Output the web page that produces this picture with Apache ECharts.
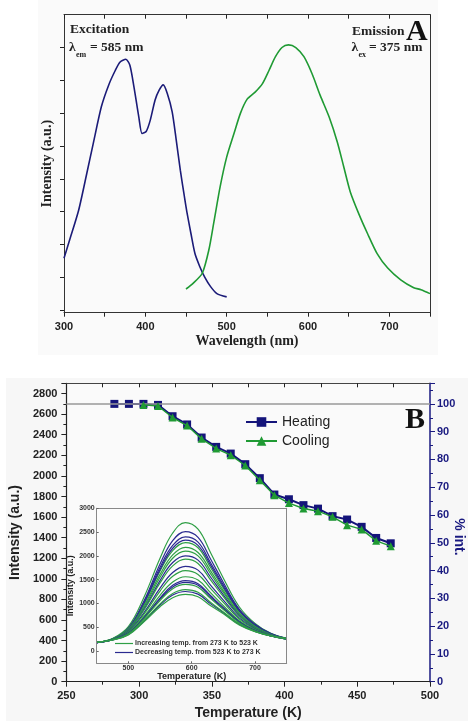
<!DOCTYPE html>
<html><head><meta charset="utf-8">
<script src="https://cdn.jsdelivr.net/npm/echarts@6/dist/echarts.min.js"></script>
<style>html,body{margin:0;padding:0;background:#fff}#c{width:468px;height:721px}</style>
</head><body><div id="c"></div>
<script>
// ---------- Panel A data ----------
const excitationWl = [300, 307, 318, 328, 336, 346, 355, 363, 369, 376, 381, 386, 392, 396, 401, 406, 412, 417, 422, 427, 433, 438, 443, 448, 451, 456, 461, 467, 473, 480, 488, 500];
const excitationInt = [0.79, 1.07, 1.52, 2.08, 2.54, 3.10, 3.43, 3.65, 3.78, 3.82, 3.73, 3.40, 2.94, 2.69, 2.72, 2.89, 3.20, 3.35, 3.43, 3.30, 3.02, 2.59, 2.13, 1.73, 1.50, 1.17, 0.86, 0.66, 0.50, 0.36, 0.25, 0.20];
const emissionWl = [450, 459, 470, 478, 484, 492, 500, 509, 517, 525, 535, 544, 552, 560, 568, 576, 585, 595, 605, 615, 626, 636, 644, 652, 663, 673, 685, 698, 714, 730, 739, 750];
const emissionInt = [0.32, 0.41, 0.56, 0.91, 1.32, 1.88, 2.33, 2.69, 3.00, 3.21, 3.32, 3.45, 3.65, 3.86, 4.00, 4.04, 4.00, 3.86, 3.60, 3.27, 2.94, 2.56, 2.18, 1.80, 1.45, 1.17, 0.86, 0.64, 0.46, 0.34, 0.31, 0.25];
const aXLabels = [300, 400, 500, 600, 700];
const aXTicks = [300, 350, 400, 450, 500, 550, 600, 650, 700, 750];
const aYTicks = [0, 0.5, 1, 1.5, 2, 2.5, 3, 3.5, 4];

// ---------- Panel B data ----------
const heatingK = [283, 293, 303, 313, 323, 333, 343, 353, 363, 373, 383, 393, 403, 413, 423, 433, 443, 453, 463, 473];
const heating = [2700, 2700, 2700, 2690, 2580, 2500, 2373, 2282, 2217, 2114, 1978, 1819, 1773, 1716, 1682, 1609, 1576, 1505, 1397, 1345];
const coolingK = [303, 313, 323, 333, 343, 353, 363, 373, 383, 393, 403, 413, 423, 433, 443, 453, 463, 473];
const cooling = [2690, 2680, 2567, 2489, 2360, 2266, 2201, 2101, 1958, 1813, 1736, 1683, 1657, 1602, 1521, 1480, 1369, 1317];
const refLevel = [2700];
const bTopTicks = [275, 300, 325, 350, 375, 400, 425, 450, 475];

// ---------- Inset data ----------
const insetWl = [450, 475, 500, 525, 550, 570, 590, 610, 630, 650, 675, 700, 725, 750];
const insetLabels = [0, 500, 1000, 1500, 2000, 2500, 3000];
const insetXLabels = [500, 600, 700];
const incName = 'Increasing temp. from 273 K to 523 K';
const decName = 'Decreasing temp. from 523 K to 273 K';
const inc1 = [180, 260, 510, 1140, 1950, 2480, 2700, 2560, 2060, 1530, 930, 580, 370, 265];
const dec1 = [175, 250, 480, 1060, 1830, 2320, 2510, 2390, 1930, 1440, 880, 560, 365, 262];
const dec2 = [175, 250, 470, 1030, 1760, 2220, 2400, 2290, 1850, 1390, 860, 545, 358, 260];
const inc2 = [180, 255, 470, 1000, 1680, 2110, 2280, 2170, 1750, 1320, 830, 530, 350, 260];
const dec3 = [175, 248, 465, 1010, 1710, 2160, 2330, 2220, 1800, 1350, 845, 538, 355, 258];
const inc3 = [180, 250, 460, 960, 1610, 2020, 2180, 2070, 1680, 1270, 800, 515, 345, 258];
const inc4 = [180, 250, 450, 930, 1550, 1950, 2100, 2000, 1620, 1230, 780, 505, 340, 256];
const dec4 = [175, 245, 440, 890, 1480, 1860, 2000, 1910, 1550, 1180, 750, 490, 335, 255];
const inc5 = [180, 245, 430, 870, 1430, 1790, 1930, 1840, 1490, 1140, 735, 480, 330, 254];
const dec5 = [175, 240, 410, 810, 1320, 1650, 1780, 1700, 1380, 1070, 695, 462, 325, 252];
const inc6 = [180, 240, 400, 780, 1260, 1570, 1690, 1610, 1310, 1020, 670, 450, 320, 250];
const inc7 = [180, 238, 385, 730, 1170, 1450, 1560, 1490, 1220, 950, 635, 435, 315, 248];
const dec6 = [175, 236, 375, 705, 1110, 1380, 1480, 1415, 1160, 910, 615, 428, 316, 250];
const dec7 = [175, 235, 370, 695, 1090, 1345, 1440, 1380, 1130, 890, 605, 424, 316, 250];
const inc8 = [180, 235, 365, 680, 1060, 1310, 1400, 1340, 1100, 870, 595, 420, 318, 250];
const dec8 = [175, 232, 345, 630, 965, 1175, 1250, 1195, 990, 805, 560, 410, 315, 260];
const inc9 = [180, 232, 350, 645, 990, 1210, 1290, 1235, 1020, 820, 570, 412, 316, 258];
const inc10 = [180, 230, 336, 616, 931, 1120, 1190, 1140, 950, 780, 546, 406, 315, 266];

const NAVY = '#14147a', GREEN = '#1f9a33', INAVY = '#2a2a90', IGREEN = '#2f9f45';
const SANS = 'Liberation Sans', SERIF = 'Liberation Serif';
const zip = (a, b) => a.map((v, i) => [v, b[i]]);
const plain = v => String(v);

const insetOrder = [
  [incName, inc1], [decName, dec1], [decName, dec2], [incName, inc2], [decName, dec3], [incName, inc3],
  [incName, inc4], [decName, dec4], [incName, inc5], [decName, dec5], [incName, inc6], [incName, inc7],
  [decName, dec6], [decName, dec7], [incName, inc8], [decName, dec8], [incName, inc9], [incName, inc10]
];
const insetSeries = insetOrder.map(([name, arr]) => ({
  type: 'line', name: name, xAxisIndex: 4, yAxisIndex: 4, data: zip(insetWl, arr),
  symbol: 'none', smooth: 0.4, z: 3,
  lineStyle: { width: 1.2, color: name === incName ? IGREEN : INAVY },
  itemStyle: { color: name === incName ? IGREEN : INAVY }
}));

const tickStyle = { color: '#222', width: 1 };
const chart = echarts.init(document.getElementById('c'), null, { renderer: 'canvas' });
chart.setOption({
  animation: false,
  backgroundColor: '#ffffff',
  grid: [
    { left: 64, top: 14.7, width: 366, height: 298 },
    { left: 62.3, top: 383.3, width: 367.7, height: 298.4, show: true, borderWidth: 0, backgroundColor: '#fafafa' },
    { left: 96.7, top: 508.3, width: 190, height: 155, show: true, borderWidth: 0, backgroundColor: '#fcfcfc', z: 3 }
  ],
  xAxis: [
    { gridIndex: 0, type: 'value', min: 300, max: 750, position: 'bottom',
      axisLine: { onZero: false, lineStyle: { color: '#333', width: 1 } },
      axisTick: { inside: false, length: 4, customValues: aXTicks, lineStyle: tickStyle },
      axisLabel: { customValues: aXLabels, formatter: plain, margin: 9, fontFamily: SANS, fontWeight: 'bold', fontSize: 11, color: '#222' },
      splitLine: { show: false },
      name: 'Wavelength (nm)', nameLocation: 'middle', nameGap: 22,
      nameTextStyle: { fontFamily: SERIF, fontWeight: 'bold', fontSize: 14, color: '#222' } },
    { gridIndex: 0, type: 'value', min: 300, max: 750, position: 'top',
      axisLine: { onZero: false, lineStyle: { color: '#333', width: 1 } },
      axisTick: { inside: true, length: 4, customValues: aXTicks, lineStyle: tickStyle },
      axisLabel: { show: false }, splitLine: { show: false } },
    { gridIndex: 1, type: 'value', min: 250, max: 500, interval: 50, position: 'bottom',
      axisLine: { onZero: false, lineStyle: { color: '#222', width: 1.2 } },
      axisTick: { inside: false, length: 5, lineStyle: tickStyle },
      minorTick: { show: true, splitNumber: 2, length: 3, lineStyle: tickStyle },
      axisLabel: { formatter: plain, margin: 9, fontFamily: SANS, fontWeight: 'bold', fontSize: 11, color: '#222' },
      splitLine: { show: false },
      name: 'Temperature (K)', nameLocation: 'middle', nameGap: 24,
      nameTextStyle: { fontFamily: SANS, fontWeight: 'bold', fontSize: 14, color: '#222' } },
    { gridIndex: 1, type: 'value', min: 250, max: 500, position: 'top',
      axisLine: { onZero: false, lineStyle: { color: '#444', width: 1 } },
      axisTick: { inside: true, length: 4, customValues: bTopTicks, lineStyle: tickStyle },
      axisLabel: { show: false }, splitLine: { show: false } },
    { gridIndex: 2, type: 'value', min: 450, max: 750, position: 'bottom', z: 4,
      axisLine: { onZero: false, lineStyle: { color: '#888', width: 1 } },
      axisTick: { inside: true, length: 2, customValues: insetXLabels, lineStyle: { color: '#666' } },
      axisLabel: { customValues: insetXLabels, formatter: plain, margin: 1, fontFamily: SANS, fontWeight: 'bold', fontSize: 7, color: '#333' },
      splitLine: { show: false },
      name: 'Temperature (K)', nameLocation: 'middle', nameGap: 7,
      nameTextStyle: { fontFamily: SANS, fontWeight: 'bold', fontSize: 9, color: '#222' } },
    { gridIndex: 2, type: 'value', min: 450, max: 750, position: 'top', z: 4,
      axisLine: { onZero: false, lineStyle: { color: '#888', width: 1 } },
      axisTick: { show: false }, axisLabel: { show: false }, splitLine: { show: false } }
  ],
  yAxis: [
    { gridIndex: 0, type: 'value', min: -0.041, max: 4.5, position: 'left',
      axisLine: { show: true, onZero: false, lineStyle: { color: '#333', width: 1 } },
      axisTick: { show: true, inside: false, length: 4, customValues: aYTicks, lineStyle: tickStyle },
      axisLabel: { show: false }, splitLine: { show: false },
      name: 'Intensity (a.u.)', nameLocation: 'middle', nameGap: 10, nameRotate: 90,
      nameTextStyle: { fontFamily: SERIF, fontWeight: 'bold', fontSize: 14, color: '#222' } },
    { gridIndex: 0, type: 'value', min: -0.041, max: 4.5, position: 'right',
      axisLine: { show: true, onZero: false, lineStyle: { color: '#333', width: 1 } },
      axisTick: { show: false }, axisLabel: { show: false }, splitLine: { show: false } },
    { gridIndex: 1, type: 'value', min: 0, max: 2900, interval: 200, position: 'left',
      axisLine: { show: true, onZero: false, lineStyle: { color: '#222', width: 1.2 } },
      axisTick: { show: true, inside: false, length: 5, lineStyle: tickStyle },
      minorTick: { show: true, splitNumber: 2, length: 3, lineStyle: tickStyle },
      axisLabel: { formatter: plain, margin: 9, showMaxLabel: false, fontFamily: SANS, fontWeight: 'bold', fontSize: 11, color: '#222' },
      splitLine: { show: false },
      name: 'Intensity (a.u.)', nameLocation: 'middle', nameGap: 39, nameRotate: 90,
      nameTextStyle: { fontFamily: SANS, fontWeight: 'bold', fontSize: 14, color: '#222' } },
    { gridIndex: 1, type: 'value', min: 0, max: 107.4, interval: 10, position: 'right',
      axisLine: { show: true, onZero: false, lineStyle: { color: '#1a1a80', width: 1.5 } },
      axisTick: { show: true, inside: false, length: 5, lineStyle: { color: '#1a1a80', width: 1 } },
      minorTick: { show: true, splitNumber: 2, length: 3, lineStyle: { color: '#1a1a80', width: 1 } },
      axisLabel: { formatter: plain, margin: 7, showMaxLabel: false, fontFamily: SANS, fontWeight: 'bold', fontSize: 11, color: '#1a1a80' },
      splitLine: { show: false } },
    { gridIndex: 2, type: 'value', min: -260, max: 3000, position: 'left', z: 4,
      axisLine: { show: true, onZero: false, lineStyle: { color: '#888', width: 1 } },
      axisTick: { show: true, inside: true, length: 2, customValues: insetLabels, lineStyle: { color: '#666' } },
      axisLabel: { customValues: insetLabels, formatter: plain, margin: 2, fontFamily: SANS, fontWeight: 'bold', fontSize: 7, color: '#333' },
      splitLine: { show: false },
      name: 'Intensity (a.u.)', nameLocation: 'middle', nameGap: 20, nameRotate: 90,
      nameTextStyle: { fontFamily: SANS, fontWeight: 'bold', fontSize: 9, color: '#222' } },
    { gridIndex: 2, type: 'value', min: -260, max: 3000, position: 'right', z: 4,
      axisLine: { show: true, onZero: false, lineStyle: { color: '#888', width: 1 } },
      axisTick: { show: false }, axisLabel: { show: false }, splitLine: { show: false } }
  ],
  legend: [
    { data: ['Heating', 'Cooling'], left: 245, top: 415, orient: 'vertical', padding: 0,
      itemWidth: 31, itemHeight: 12, itemGap: 5,
      textStyle: { fontFamily: SANS, fontSize: 14, color: '#222' } },
    { data: [incName, decName], left: 115, top: 640, orient: 'vertical', z: 5, padding: 0,
      icon: 'rect', itemWidth: 18, itemHeight: 1.2, itemGap: 2,
      textStyle: { fontFamily: SANS, fontWeight: 'bold', fontSize: 7, color: '#333', padding: [0, 0, 0, -3] } }
  ],
  graphic: [
    { type: 'rect', z: -100, shape: { x: 38, y: 0, width: 400, height: 355 }, style: { fill: '#fafafa' } },
    { type: 'rect', z: -100, shape: { x: 6, y: 378, width: 462, height: 343 }, style: { fill: '#f7f7f7' } },
    { type: 'text', x: 70, y: 30, style: { text: 'Excitation', font: 'bold 13.5px "Liberation Serif"', fill: '#222', verticalAlign: 'middle' } },
    { type: 'text', x: 69, y: 48, style: { text: 'λ', font: 'bold 13.5px "Liberation Serif"', fill: '#222', verticalAlign: 'middle' } },
    { type: 'text', x: 76, y: 54.5, style: { text: 'em', font: 'bold 8px "Liberation Serif"', fill: '#222', verticalAlign: 'middle' } },
    { type: 'text', x: 90, y: 48, style: { text: '= 585 nm', font: 'bold 13.5px "Liberation Serif"', fill: '#222', verticalAlign: 'middle' } },
    { type: 'text', x: 352, y: 31.5, style: { text: 'Emission', font: 'bold 13.5px "Liberation Serif"', fill: '#222', verticalAlign: 'middle' } },
    { type: 'text', x: 406, y: 32.5, style: { text: 'A', font: 'bold 30px "Liberation Serif"', fill: '#111', verticalAlign: 'middle' } },
    { type: 'text', x: 351.5, y: 48, style: { text: 'λ', font: 'bold 13.5px "Liberation Serif"', fill: '#222', verticalAlign: 'middle' } },
    { type: 'text', x: 358.5, y: 55, style: { text: 'ex', font: 'bold 8px "Liberation Serif"', fill: '#222', verticalAlign: 'middle' } },
    { type: 'text', x: 369, y: 48, style: { text: '= 375 nm', font: 'bold 13.5px "Liberation Serif"', fill: '#222', verticalAlign: 'middle' } },
    { type: 'text', x: 405, y: 420, style: { text: 'B', font: 'bold 30px "Liberation Serif"', fill: '#111', verticalAlign: 'middle' } },
    { type: 'text', x: 459, y: 537, rotation: -Math.PI / 2,
      style: { text: '% int.', font: 'bold 14px "Liberation Sans"', fill: '#1a1a80', align: 'center', verticalAlign: 'middle' } }
  ],
  series: [
    { type: 'line', name: 'Excitation', xAxisIndex: 0, yAxisIndex: 0, data: zip(excitationWl, excitationInt),
      symbol: 'none', smooth: 0.25, lineStyle: { width: 1.6, color: '#1b1b78' } },
    { type: 'line', name: 'Emission', xAxisIndex: 0, yAxisIndex: 0, data: zip(emissionWl, emissionInt),
      symbol: 'none', smooth: 0.25, lineStyle: { width: 1.6, color: GREEN } },
    { type: 'line', name: 'Heating', xAxisIndex: 2, yAxisIndex: 2, data: zip(heatingK, heating),
      symbol: 'rect', symbolSize: 8, z: 4, lineStyle: { width: 2, color: NAVY }, itemStyle: { color: NAVY },
      markLine: { silent: true, symbol: ['none', 'none'], label: { show: false },
        lineStyle: { color: '#999', width: 1.5, type: 'solid' }, data: [{ yAxis: refLevel[0] }] } },
    { type: 'line', name: 'Cooling', xAxisIndex: 2, yAxisIndex: 2, data: zip(coolingK, cooling),
      symbol: 'triangle', symbolSize: 8, z: 5, lineStyle: { width: 1.4, color: GREEN }, itemStyle: { color: GREEN } }
  ].concat(insetSeries)
});
</script></body></html>
